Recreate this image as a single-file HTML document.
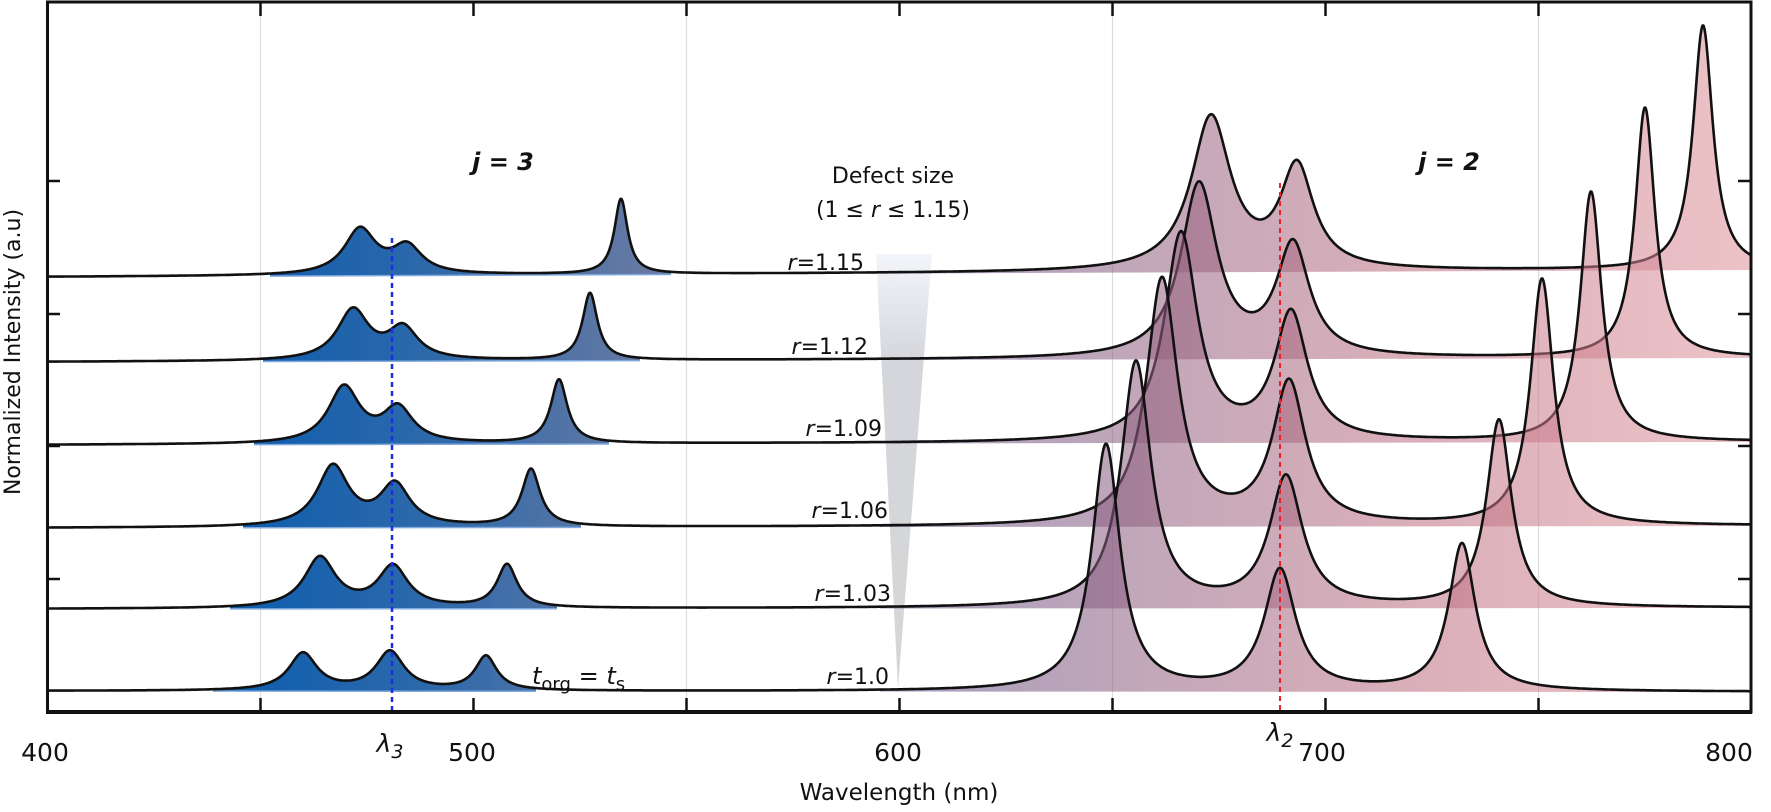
<!DOCTYPE html>
<html><head><meta charset="utf-8">
<style>
html,body{margin:0;padding:0;background:#fff;}
svg{display:block;}
text{font-family:"DejaVu Sans","Liberation Sans",sans-serif;fill:#111;}
</style></head>
<body>
<svg id="s" width="1771" height="812" viewBox="0 0 1771 812" xmlns="http://www.w3.org/2000/svg">
<defs>
<linearGradient id="gb" gradientUnits="userSpaceOnUse" x1="230" y1="0" x2="640" y2="0">
<stop offset="0" stop-color="#0c5dae"/><stop offset="0.5" stop-color="#2f69aa"/><stop offset="1" stop-color="#6579a3"/>
</linearGradient>
<linearGradient id="gr" gradientUnits="userSpaceOnUse" x1="900" y1="0" x2="1751" y2="0">
<stop offset="0" stop-color="#5e4e86"/><stop offset="0.3" stop-color="#92607f"/><stop offset="0.6" stop-color="#bb6c80"/><stop offset="1" stop-color="#de9098"/>
</linearGradient>
<linearGradient id="gt" x1="0" y1="0" x2="0" y2="1">
<stop offset="0" stop-color="#f4f5fa"/><stop offset="0.25" stop-color="#d4d6dc"/><stop offset="1" stop-color="#d6d6d6"/>
</linearGradient>
</defs>
<rect x="0" y="0" width="1771" height="812" fill="#fff"/>
<g stroke="#dcdcdc" stroke-width="1.2">
<line x1="260.5" y1="2" x2="260.5" y2="712"/><line x1="686.5" y1="2" x2="686.5" y2="712"/>
<line x1="1112.5" y1="2" x2="1112.5" y2="712"/><line x1="1538.5" y1="2" x2="1538.5" y2="712"/>
</g>
<polygon points="876,254 932,254 898,688" fill="url(#gt)"/>
<g id="curves"></g>
<line x1="392" y1="238" x2="392" y2="712" stroke="#1a2ee8" stroke-width="2.5" stroke-dasharray="5,4"/>
<line x1="1280" y1="183" x2="1280" y2="712" stroke="#e8202a" stroke-width="2" stroke-dasharray="5,4"/>
<rect x="47.5" y="2" width="1703.5" height="710" fill="none" stroke="#111" stroke-width="3"/>
<line x1="46" y1="712" x2="1752" y2="712" stroke="#111" stroke-width="4"/>
<g id="ticks" stroke="#111" stroke-width="2.5"></g>
<g font-size="25" text-anchor="middle">
<text x="45" y="761">400</text><text x="472" y="761">500</text><text x="898" y="761">600</text>
<text x="1322" y="761">700</text><text x="1729" y="761">800</text>
<text x="899" y="800" font-size="23">Wavelength (nm)</text>
<text x="390" y="752" font-size="25" font-style="italic">λ<tspan font-size="19" dy="6">3</tspan></text>
<text x="1280" y="741" font-size="25" font-style="italic">λ<tspan font-size="19" dy="6">2</tspan></text>
</g>
<text transform="translate(20,352) rotate(-90)" font-size="22" text-anchor="middle">Normalized Intensity (a.u)</text>
<g font-size="24" font-weight="bold" font-style="italic" text-anchor="middle">
<text x="503" y="170">j = 3</text><text x="1449" y="170">j = 2</text>
</g>
<g font-size="22" text-anchor="middle">
<text x="893" y="183">Defect size</text>
<text x="893" y="217">(1 ≤ <tspan font-style="italic">r</tspan> ≤ 1.15)</text>
</g>
<g font-size="22" text-anchor="end">
<text x="864" y="270"><tspan font-style="italic">r</tspan>=1.15</text>
<text x="868" y="354"><tspan font-style="italic">r</tspan>=1.12</text>
<text x="882" y="436"><tspan font-style="italic">r</tspan>=1.09</text>
<text x="888" y="518"><tspan font-style="italic">r</tspan>=1.06</text>
<text x="891" y="601"><tspan font-style="italic">r</tspan>=1.03</text>
<text x="889" y="684"><tspan font-style="italic">r</tspan>=1.0</text>
</g>
<text x="532" y="684" font-size="24"><tspan font-style="italic">t</tspan><tspan font-size="18" dy="6">org</tspan><tspan dy="-6"> = </tspan><tspan font-style="italic">t</tspan><tspan font-size="18" dy="6">s</tspan></text>
</svg>
<script>
(function(){
var NS="http://www.w3.org/2000/svg";
var X0=47.5,X1=1751;
var C=[
 {bl:277,br:270,b:[[360,49,19],[407,34,18],[621,76,8]],r:[[1211,158,24],[1297,112,20],[1703,245,12]]},
 {bl:362,br:358,b:[[353,54,19],[403,38,18],[590,68,9]],r:[[1199,178,22],[1293,120,20],[1645,251,12]]},
 {bl:445,br:442,b:[[344,60,19],[398,41,18],[559,65,10]],r:[[1181,212,20],[1291,134,20],[1591,251,13]]},
 {bl:528,br:526,b:[[333,64,19],[395,47,18],[531,59,11]],r:[[1162,250,19],[1289,148,20],[1542,248,14]]},
 {bl:609,br:608,b:[[320,53,19],[393,45,18],[507,45,12]],r:[[1136,248,18],[1286,134,20],[1499,189,15]]},
 {bl:691,br:692,b:[[303,39,17],[390,41,17],[486,36,13]],r:[[1106,248,17],[1280,124,19],[1462,149,16]]}
];
var g=document.getElementById("curves");
function el(n,a){var e=document.createElementNS(NS,n);for(var k in a)e.setAttribute(k,a[k]);return e;}
C.forEach(function(c){
 var P=c.b.concat(c.r).map(function(p){return {x:p[0],h:p[1],g:p[2],A:p[1]};});
 function f(x){var s=0;for(var i=0;i<P.length;i++){var d=(x-P[i].x)/P[i].g;s+=P[i].A/(1+d*d);}return s;}
 for(var it=0;it<40;it++){P.forEach(function(p){p.A+= (p.h-f(p.x))*0.7;});}
 function base(x){return c.bl+(c.br-c.bl)*(x-X0)/(X1-X0);}
 function Y(x){return base(x)-f(x);}
 function seg(a,b){var pts=[];for(var x=a;x<=b;x+=1)pts.push(x.toFixed(1)+","+Y(x).toFixed(1));return pts;}
 function fill(a,b,fillv,op){var pts=seg(a,b);pts.push(b+","+base(b).toFixed(1));pts.push(a+","+base(a).toFixed(1));
  g.appendChild(el("polygon",{points:pts.join(" "),fill:fillv,"fill-opacity":op}));}
 fill(880,X1,"url(#gr)",0.55);
 var ba=c.b[0][0]-90,bb=c.b[2][0]+50;
 fill(ba,bb,"url(#gb)",1);
 g.appendChild(el("line",{x1:ba,y1:base(ba),x2:bb,y2:base(bb),stroke:"#7fa8dc","stroke-width":1.5}));
 g.appendChild(el("polyline",{points:seg(X0,X1).join(" "),fill:"none",stroke:"#111","stroke-width":2.6,"stroke-linejoin":"round"}));
});
var t=document.getElementById("ticks");
[260.5,473.5,686.5,899.5,1112.5,1325.5,1538.5].forEach(function(x){
 t.appendChild(el("line",{x1:x,y1:712,x2:x,y2:698}));
 t.appendChild(el("line",{x1:x,y1:2,x2:x,y2:16}));
});
[181,314,446,579].forEach(function(y){
 t.appendChild(el("line",{x1:47.5,y1:y,x2:60,y2:y}));
 t.appendChild(el("line",{x1:1751,y1:y,x2:1738,y2:y}));
});
})();
</script>
</body></html>
